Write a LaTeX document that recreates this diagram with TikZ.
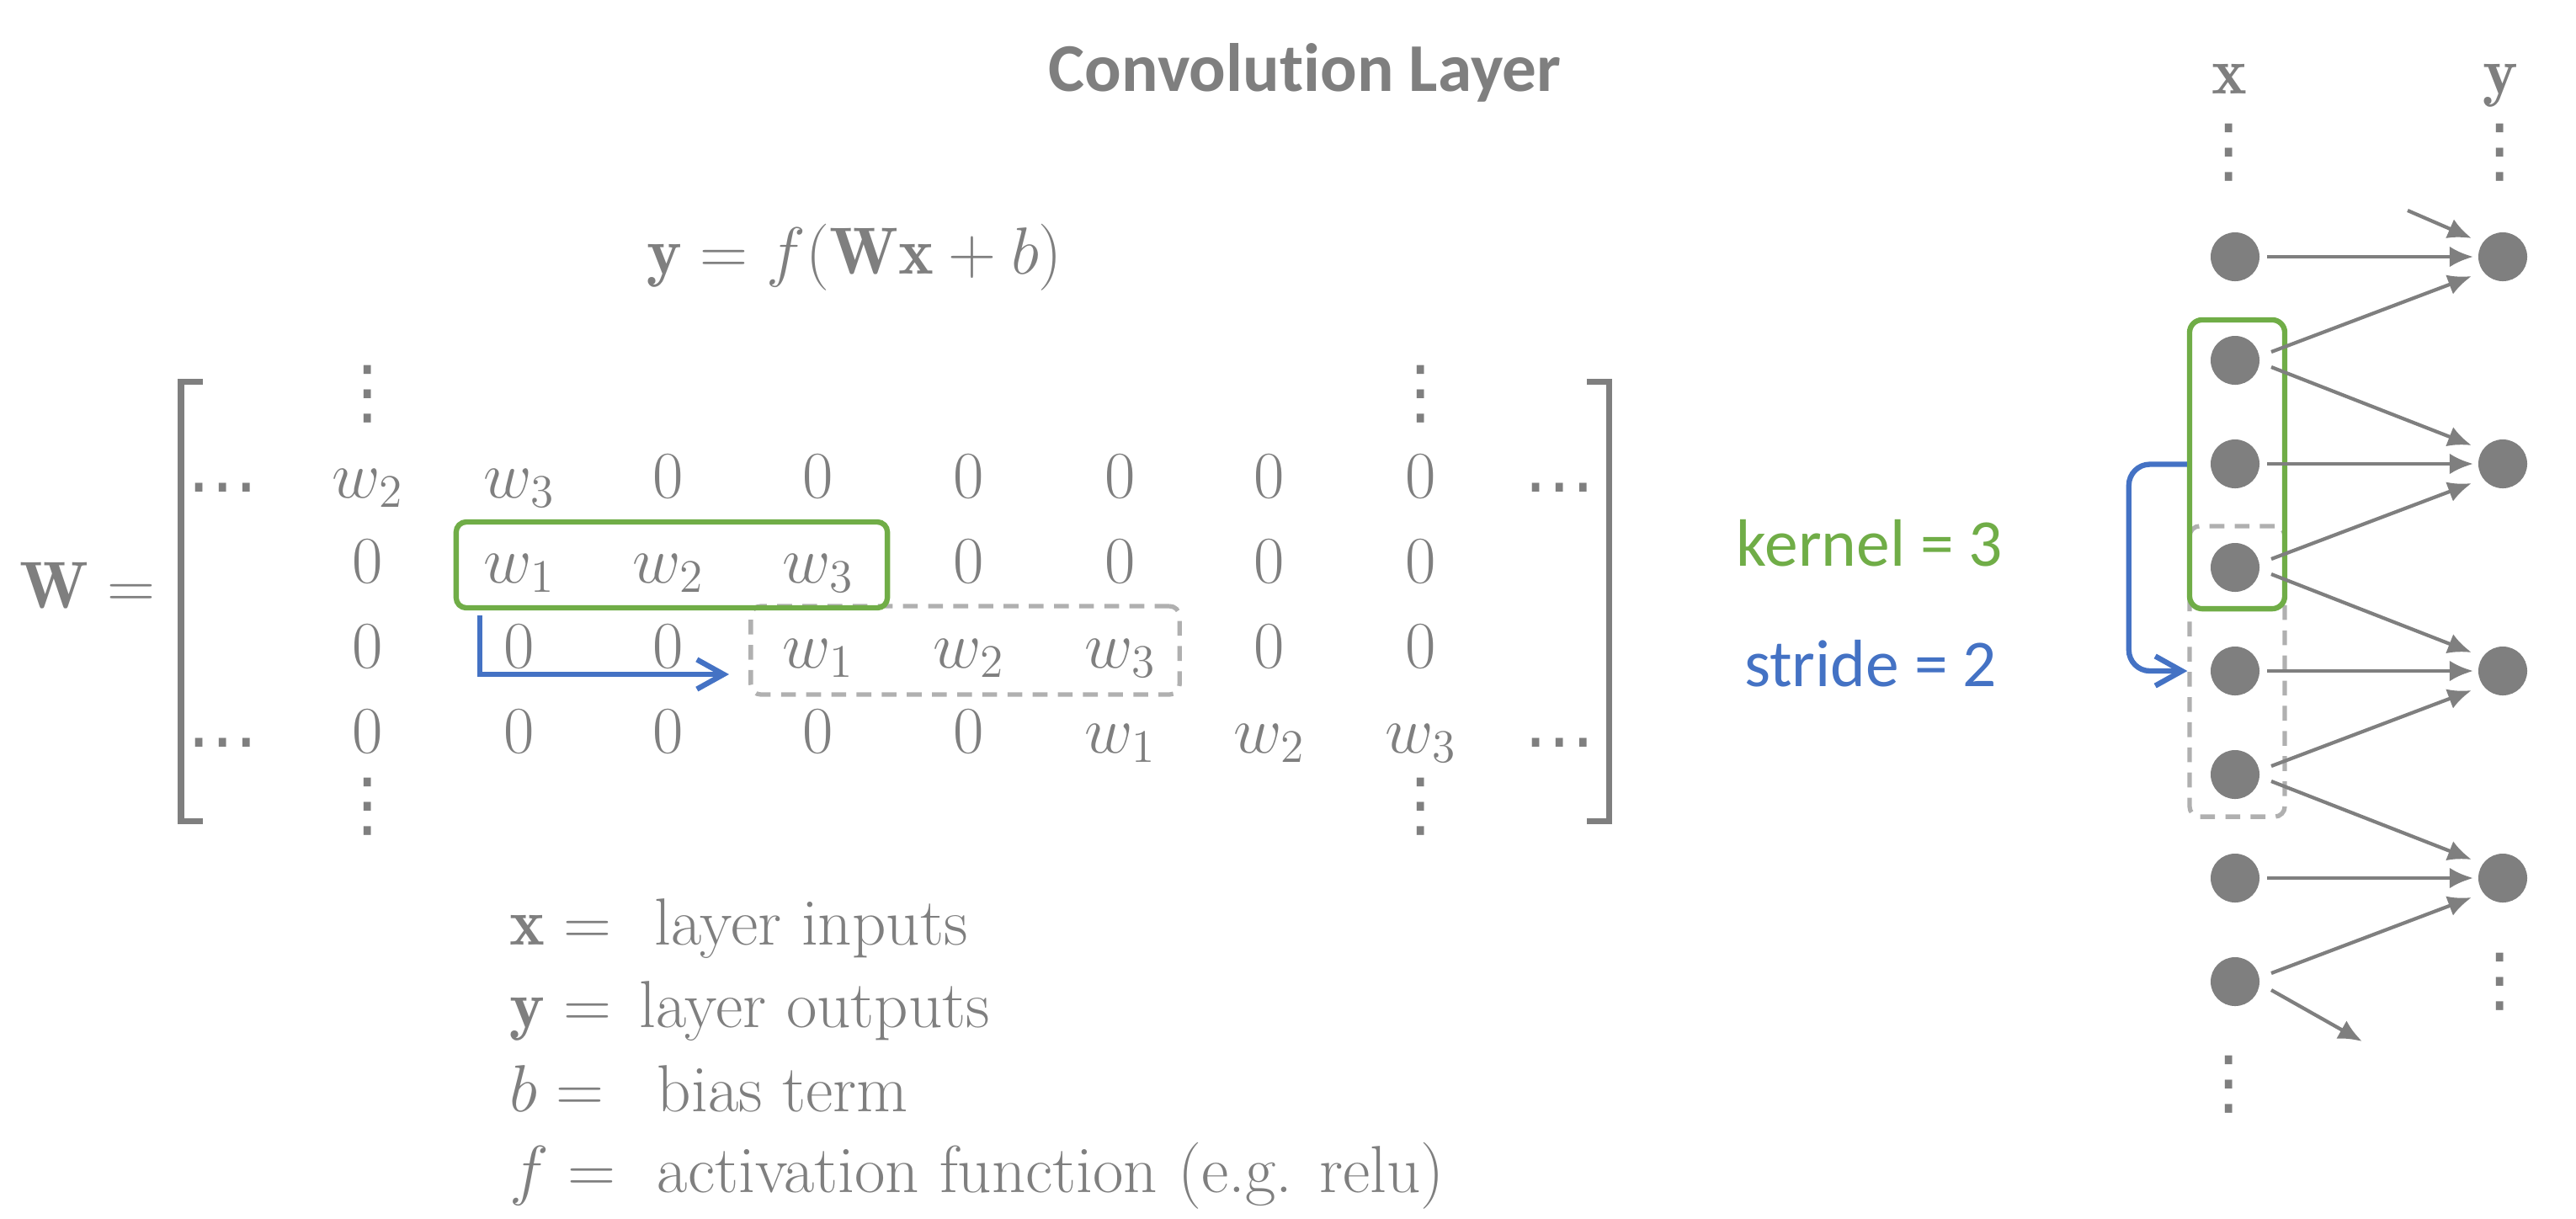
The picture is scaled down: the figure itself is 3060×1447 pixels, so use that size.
\RequirePackage{fix-cm}
\documentclass[tikz,border=0pt]{standalone}
\usepackage{fontspec}
\newfontfamily\calibri[Ligatures=CommonOff]{Carlito}
\newfontfamily\djv{DejaVu Sans}
\usetikzlibrary{arrows.meta,calc}
\definecolor{tgray}{HTML}{7F7F7F}
\definecolor{kgreen}{HTML}{70AD47}
\definecolor{sblue}{HTML}{4472C4}
\definecolor{dgray}{HTML}{B0B0B0}
\newcommand\vdts{\hbox{\djv\fontsize{24}{28}\selectfont\char"22EE}}
\newcommand\hdts{\hbox{\djv\fontsize{24}{28}\selectfont\char"22EF}}
\begin{document}
\begin{tikzpicture}[x=0.01cm,y=-0.01cm,
  every node/.style={text=tgray, inner sep=0pt, font=\fontsize{22.5}{27}\selectfont},
  ent/.style={anchor=base},
  dts/.style={anchor=center},
  neuron/.style={circle, fill=tgray, minimum size=0.58cm},
  arr/.style={draw=tgray, line width=1.2pt, -{Latex[length=8pt,width=7pt]}},
  kbox/.style={draw=kgreen, line width=1.8pt, rounded corners=0.12cm},
  sbox/.style={draw=dgray, line width=1.5pt, dash pattern=on 5pt off 3.5pt, rounded corners=0.12cm},
  sarr/.style={draw=sblue, line width=1.8pt, -{Straight Barb[length=9pt,width=10pt]}},
  brk/.style={draw=tgray, line width=2pt},
  cfont/.style={font=\calibri\fontsize{22.6}{27}\selectfont}]
\useasboundingbox (0,0) rectangle (3060,1447);

% title and equation
\node[anchor=base, font=\calibri\bfseries\fontsize{23.1}{28}\selectfont] (title) at (1550,108) {Convolution Layer};
\node[anchor=base] (eq) at (1015,325) {$\mathbf{y} = f(\mathbf{W}\mathbf{x} + b)$};

% matrix
\node[anchor=base west] (Wl) at (23,722) {$\mathbf{W} =$};
\draw[brk] (241,453) -- (215,453) -- (215,975) -- (241,975);
\draw[brk] (1885,453) -- (1911,453) -- (1911,975) -- (1885,975);

\node[dts] (v1) at (437,468) {\vdts};
\node[dts] (v2) at (1688,468) {\vdts};
\node[dts] (v3) at (437,958) {\vdts};
\node[dts] (v4) at (1688,958) {\vdts};
\node[ent] (h1) at (265,605) {\hdts};
\node[ent] (h2) at (1853,605) {\hdts};
\node[ent] (h3) at (265,908) {\hdts};
\node[ent] (h4) at (1853,908) {\hdts};

\foreach \x/\t [count=\i] in {437/w_2, 617/w_3, 794/0, 972/0, 1151/0, 1331/0, 1508/0, 1688/0}
  \node[ent] (ra\i) at (\x,591) {$\t$};
\foreach \x/\t [count=\i] in {437/0, 617/w_1, 794/w_2, 972/w_3, 1151/0, 1331/0, 1508/0, 1688/0}
  \node[ent] (rb\i) at (\x,692) {$\t$};
\foreach \x/\t [count=\i] in {437/0, 617/0, 794/0, 972/w_1, 1151/w_2, 1331/w_3, 1508/0, 1688/0}
  \node[ent] (rc\i) at (\x,793) {$\t$};
\foreach \x/\t [count=\i] in {437/0, 617/0, 794/0, 972/0, 1151/0, 1331/w_1, 1508/w_2, 1688/w_3}
  \node[ent] (rd\i) at (\x,894) {$\t$};

\node[sbox, minimum width=5.09cm, minimum height=1.05cm] (dl) at (1146.5,772.5) {};
\node[kbox, minimum width=5.12cm, minimum height=1.02cm] (kl) at (798,671) {};
\coordinate (bs) at (570,731);
\coordinate (be) at (866,801);
\draw[sarr] (bs) |- (be);

% kernel / stride
\node[cfont, text=kgreen, anchor=base] (kern) at (2221,672) {kernel = 3};
\node[cfont, text=sblue, anchor=base] (strd) at (2222,815) {stride = 2};

% legend
\node[anchor=base west] (lx) at (605,1122) {\makebox[1.72cm][l]{$\mathbf{x} =$}layer inputs};
\node[anchor=base west] (ly) at (605,1220) {\makebox[1.54cm][l]{$\mathbf{y} =$}layer outputs};
\node[anchor=base west] (lb) at (605,1320) {\makebox[1.75cm][l]{$b =$}bias term};
\node[anchor=base west] (lf) at (605,1416) {\makebox[1.75cm][l]{$f =$}activation function (e.g. relu)};

% network
\node[ent] (xl) at (2648,111) {$\mathbf{x}$};
\node[ent] (yl) at (2970,111) {$\mathbf{y}$};
\node[dts] (xv1) at (2648,181) {\vdts};
\node[dts] (yv1) at (2970,181) {\vdts};
\node[dts] (xv2) at (2648,1288) {\vdts};
\node[dts] (yv2) at (2970,1166) {\vdts};

\foreach \i in {0,...,7}
  \node[neuron] (x\i) at (2655,{305+123*\i}) {};
\foreach \j in {0,...,3}
  \node[neuron] (y\j) at (2973,{305+246*\j}) {};

\node[sbox, minimum width=1.13cm, minimum height=3.45cm] (dr) at (2657.5,797.5) {};
\node[kbox, minimum width=1.13cm, minimum height=3.43cm, rounded corners=0.15cm] (kr) at (2657.5,551.5) {};
\draw[sarr, rounded corners=0.25cm] (kr.west) -- ++(-69,0) |- (x4 -| dr.west);

\coordinate (ot) at (2860,250);
\coordinate (ob) at (2806,1237);
\draw[arr] (ot) -- ($(y0)+(-37,-22)$);
\foreach \s/\t in {x0/y0, x2/y1, x4/y2, x6/y3}
  \draw[arr] ($(\s)+(38,0)$) -- ($(\t)+(-35,0)$);
\foreach \s/\t in {x1/y0, x3/y1, x5/y2, x7/y3}
  \draw[arr] ($(\s)+(43,-10)$) -- ($(\t)+(-37,23)$);
\foreach \s/\t in {x1/y1, x3/y2, x5/y3}
  \draw[arr] ($(\s)+(43,8)$) -- ($(\t)+(-37,-22)$);
\draw[arr] ($(x7)+(43,10)$) -- (ob);
\end{tikzpicture}
\end{document}
